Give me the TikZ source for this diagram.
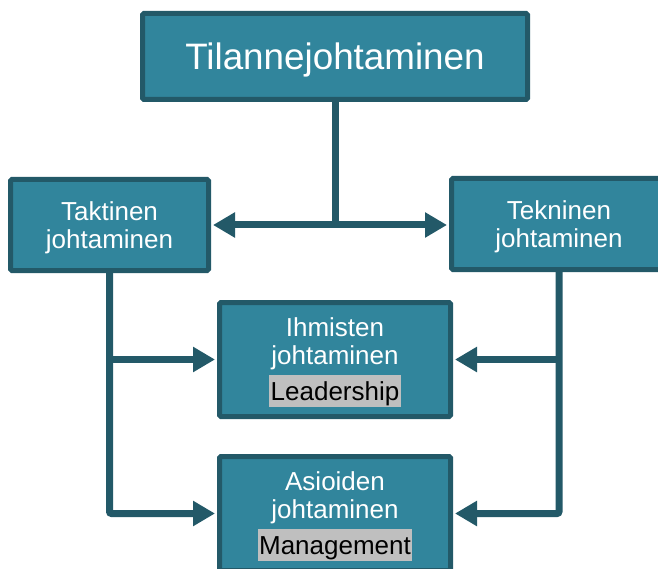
\documentclass[tikz,border=0pt]{standalone}
\usepackage{fontspec}
\setmainfont{Liberation Sans}
\usetikzlibrary{arrows.meta}
\definecolor{boxfill}{RGB}{49,133,156}
\definecolor{boxline}{RGB}{35,89,104}
\definecolor{hl}{RGB}{191,191,191}
\setlength{\fboxsep}{1.5pt}
\newcommand{\hlabel}[1]{\colorbox{hl}{\color{black}\rule[-5.5pt]{0pt}{29pt}#1}}
\newcommand{\topstrut}[1]{\rule{0pt}{#1}}
\tikzset{
  box/.style={draw=boxline, fill=boxfill, line width=5pt, rounded corners=1.5pt,
    text=white, align=center, inner sep=0pt,
    font=\fontsize{26}{28}\selectfont},
  conn/.style={draw=boxline, line width=7pt, rounded corners=2pt},
  arr/.style={conn, -{Triangle[length=22pt,width=24pt]}, shorten >=2pt},
}
\begin{document}
\begin{tikzpicture}[x=1pt,y=-1pt]
\useasboundingbox (0,0) rectangle (658,569);
\node[box, minimum width=385pt, minimum height=86pt,
  font=\fontsize{36.8}{40}\selectfont] (top) at (335,56.5) {\topstrut{33pt}Tilannejohtaminen};
\node[box, minimum width=198pt, minimum height=91pt] (tak) at (109.5,225) {\topstrut{25pt}Taktinen\\johtaminen};
\node[box, minimum width=215pt, minimum height=91pt] (tek) at (559,224) {\topstrut{25pt}Tekninen\\johtaminen};
\node[box, minimum width=231pt, minimum height=114pt] (ihm) at (335,359.5) {\topstrut{25pt}Ihmisten\\johtaminen\\[4pt]\hlabel{Leadership}};
\node[box, minimum width=231pt, minimum height=114pt] (asi) at (335,513.5) {\topstrut{25pt}Asioiden\\johtaminen\\[4pt]\hlabel{Management}};
\coordinate (j) at (335,225);
\draw[conn] (top.south) -- (j);
\draw[arr] (j) -- (tak);
\draw[arr] (j) -- (j -| tek.west);
\draw[arr] (tak.south) |- (asi.west);
\draw[arr] (tak.south |- ihm.west) -- (ihm.west);
\draw[arr] (tek.south) |- (asi.east);
\draw[arr] (tek.south |- ihm.east) -- (ihm.east);
\end{tikzpicture}
\end{document}
